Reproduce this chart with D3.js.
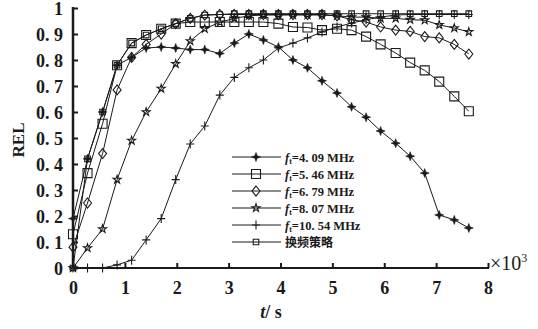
<!DOCTYPE html>
<html>
<head>
<meta charset="utf-8">
<script src="https://cdn.jsdelivr.net/npm/d3@7"></script>
<style>
  body { margin: 0; background: #fff; }
  svg { display: block; }
</style>
</head>
<body>
<svg id="chart" width="538" height="329"></svg>
<script>
// time samples (x10^3 s)
const times = [0, 0.28, 0.57, 0.85, 1.13, 1.41, 1.70, 1.98, 2.26, 2.54, 2.83, 3.11, 3.39, 3.67,
  3.96, 4.24, 4.52, 4.80, 5.09, 5.37, 5.65, 5.93, 6.22, 6.50, 6.78, 7.06, 7.35, 7.63];

const f409 = [0.19, 0.42, 0.60, 0.78, 0.81, 0.846, 0.85, 0.846, 0.84, 0.84, 0.825, 0.865, 0.90, 0.877,
  0.85, 0.80, 0.77, 0.72, 0.673, 0.62, 0.58, 0.527, 0.48, 0.43, 0.365, 0.204, 0.185, 0.154];
const f546 = [0.13, 0.365, 0.555, 0.78, 0.865, 0.896, 0.92, 0.94, 0.946, 0.946, 0.946, 0.946, 0.946, 0.946,
  0.94, 0.927, 0.925, 0.915, 0.92, 0.915, 0.89, 0.86, 0.827, 0.79, 0.76, 0.717, 0.66, 0.603];
const f679 = [0.08, 0.25, 0.44, 0.685, 0.81, 0.86, 0.90, 0.94, 0.96, 0.973, 0.975, 0.975, 0.975, 0.975,
  0.975, 0.975, 0.975, 0.975, 0.97, 0.955, 0.946, 0.927, 0.915, 0.91, 0.89, 0.885, 0.86, 0.823];
const f807 = [0, 0.077, 0.15, 0.34, 0.49, 0.60, 0.69, 0.785, 0.873, 0.92, 0.945, 0.96, 0.97, 0.973,
  0.973, 0.973, 0.973, 0.973, 0.97, 0.965, 0.965, 0.96, 0.96, 0.955, 0.953, 0.935, 0.923, 0.908];
const f1054 = [0, 0, 0, 0.012, 0.03, 0.108, 0.19, 0.34, 0.477, 0.546, 0.665, 0.733, 0.77, 0.80,
  0.846, 0.865, 0.885, 0.908, 0.927, 0.942, 0.955, 0.965, 0.973, 0.975, 0.975, 0.975, 0.975, 0.975];
const fswitch = [0, 0.42, 0.60, 0.78, 0.865, 0.896, 0.92, 0.94, 0.96, 0.973, 0.975, 0.978, 0.978, 0.978,
  0.978, 0.978, 0.978, 0.978, 0.978, 0.978, 0.978, 0.978, 0.978, 0.978, 0.978, 0.978, 0.978, 0.978];

const xTicks = [0, 1, 2, 3, 4, 5, 6, 7, 8];
const yTicks = [0, 0.1, 0.2, 0.3, 0.4, 0.5, 0.6, 0.7, 0.8, 0.9, 1];
const yTickLabels = ['0', '0. 1', '0. 2', '0. 3', '0. 4', '0. 5', '0. 6', '0. 7', '0. 8', '0. 9', '1'];

const seriesList = [
  { sub: 't', label: '=4. 09 MHz', values: f409, marker: 'star4' },
  { sub: 't', label: '=5. 46 MHz', values: f546, marker: 'square' },
  { sub: 't', label: '=6. 79 MHz', values: f679, marker: 'diamond' },
  { sub: 't', label: '=8. 07 MHz', values: f807, marker: 'star' },
  { sub: 't', label: '=10. 54 MHz', values: f1054, marker: 'plus' },
  { sub: null, label: '换频策略', values: fswitch, marker: 'smallsquare' }
];

const svg = d3.select('#chart');
const ink = '#1a1a1a';
const serif = '"Liberation Serif", "Times New Roman", serif';

/**
 * SCALES
 */
const x = d3.scaleLinear().domain([0, 8]).range([73, 488]);
const y = d3.scaleLinear().domain([0, 1]).range([268, 8]);

/**
 * MARKERS
 */
function markerPath(kind) {
  switch (kind) {
    case 'star4': return 'M0,-4.5L1.2,-1.2L4.5,0L1.2,1.2L0,4.5L-1.2,1.2L-4.5,0L-1.2,-1.2Z';
    case 'square': return 'M-4.5,-4.5H4.5V4.5H-4.5Z';
    case 'diamond': return 'M0,-5L4,0L0,5L-4,0Z';
    case 'star': return d3.symbol(d3.symbolStar, 20)();
    case 'plus': return 'M0,-4.5V4.5M-4,0H4';
    case 'smallsquare': return 'M-2.8,-2.8H2.8V2.8H-2.8Z';
  }
}

function drawMarker(g, kind) {
  g.append('path')
    .attr('d', markerPath(kind))
    .attr('fill', kind === 'star4' ? ink : 'none')
    .attr('stroke', ink)
    .attr('stroke-width', kind === 'star4' ? 0.6 : 1.1);
}

/**
 * LINES
 */
const line = d3.line()
  .x((d, i) => x(times[i]))
  .y((d) => y(d));

seriesList.forEach((s) => {
  svg.append('path')
    .attr('d', line(s.values))
    .attr('fill', 'none')
    .attr('stroke', ink)
    .attr('stroke-width', 1);

  svg.append('g')
    .selectAll('g')
    .data(s.values)
    .join('g')
    .attr('transform', (d, i) => `translate(${x(times[i])},${y(d)})`)
    .each(function () { drawMarker(d3.select(this), s.marker); });
});

/**
 * AXES
 */
const yAxis = d3.axisLeft(y)
  .tickValues(yTicks)
  .tickSize(-5)
  .tickPadding(10)
  .tickFormat((d, i) => yTickLabels[i]);

const gY = svg.append('g')
  .attr('transform', 'translate(73,0)')
  .call(yAxis);
gY.select('.domain').attr('d', 'M0,7V268').attr('stroke', ink).attr('stroke-width', 2.5);
gY.selectAll('.tick line').attr('stroke', ink).attr('stroke-width', 2);
gY.selectAll('.tick text')
  .attr('fill', ink)
  .attr('font-family', serif)
  .attr('font-weight', 'bold')
  .attr('font-size', 18)
  .attr('dy', '0.35em');

const xAxis = d3.axisBottom(x)
  .tickValues(xTicks)
  .tickSize(-5)
  .tickPadding(10)
  .tickFormat(d3.format('d'));

const gX = svg.append('g')
  .attr('transform', 'translate(0,268)')
  .call(xAxis);
gX.select('.domain').attr('d', 'M73,0H489').attr('stroke', ink).attr('stroke-width', 2.2);
gX.selectAll('.tick line').attr('stroke', ink).attr('stroke-width', 2);
gX.selectAll('.tick text')
  .attr('fill', ink)
  .attr('font-family', serif)
  .attr('font-weight', 'bold')
  .attr('font-size', 18)
  .attr('dy', '0.9em');

// x10^3 multiplier
const mult = svg.append('text')
  .attr('x', 490)
  .attr('y', 270)
  .attr('fill', ink)
  .attr('font-family', serif)
  .attr('font-size', 20);
mult.append('tspan').text('×10');
mult.append('tspan').attr('dy', -8).attr('font-size', 12).text('3');

/**
 * AXIS TITLES
 */
svg.append('text')
  .attr('transform', 'translate(24,140) rotate(-90)')
  .attr('text-anchor', 'middle')
  .attr('fill', ink)
  .attr('font-family', serif)
  .attr('font-weight', 'bold')
  .attr('font-size', 17)
  .text('REL');

const xt = svg.append('text')
  .attr('x', 271)
  .attr('y', 318)
  .attr('text-anchor', 'middle')
  .attr('fill', ink)
  .attr('font-family', serif)
  .attr('font-weight', 'bold')
  .attr('font-size', 18);
xt.append('tspan').attr('font-style', 'italic').text('t');
xt.append('tspan').text('/ s');

/**
 * LEGEND
 */
const legend = svg.append('g');
seriesList.forEach((s, i) => {
  const cy = 157 + i * 17;
  const row = legend.append('g').attr('transform', `translate(0,${cy})`);
  row.append('line')
    .attr('x1', 232).attr('x2', 281)
    .attr('stroke', ink).attr('stroke-width', 1);
  drawMarker(row.append('g').attr('transform', 'translate(256,0)'), s.marker);

  const t = row.append('text')
    .attr('x', 285)
    .attr('y', 4.5)
    .attr('fill', ink)
    .attr('font-weight', 'bold')
    .attr('font-size', 12.5);
  if (s.sub) {
    t.attr('font-family', serif);
    t.append('tspan').attr('font-style', 'italic').text('f');
    t.append('tspan').attr('font-size', 8).attr('dy', 2).text(s.sub);
    t.append('tspan').attr('dy', -2).text(s.label);
  } else {
    t.attr('font-family', '"Noto Sans CJK SC", sans-serif')
      .attr('font-size', 12)
      .text(s.label);
  }
});
</script>
</body>
</html>
